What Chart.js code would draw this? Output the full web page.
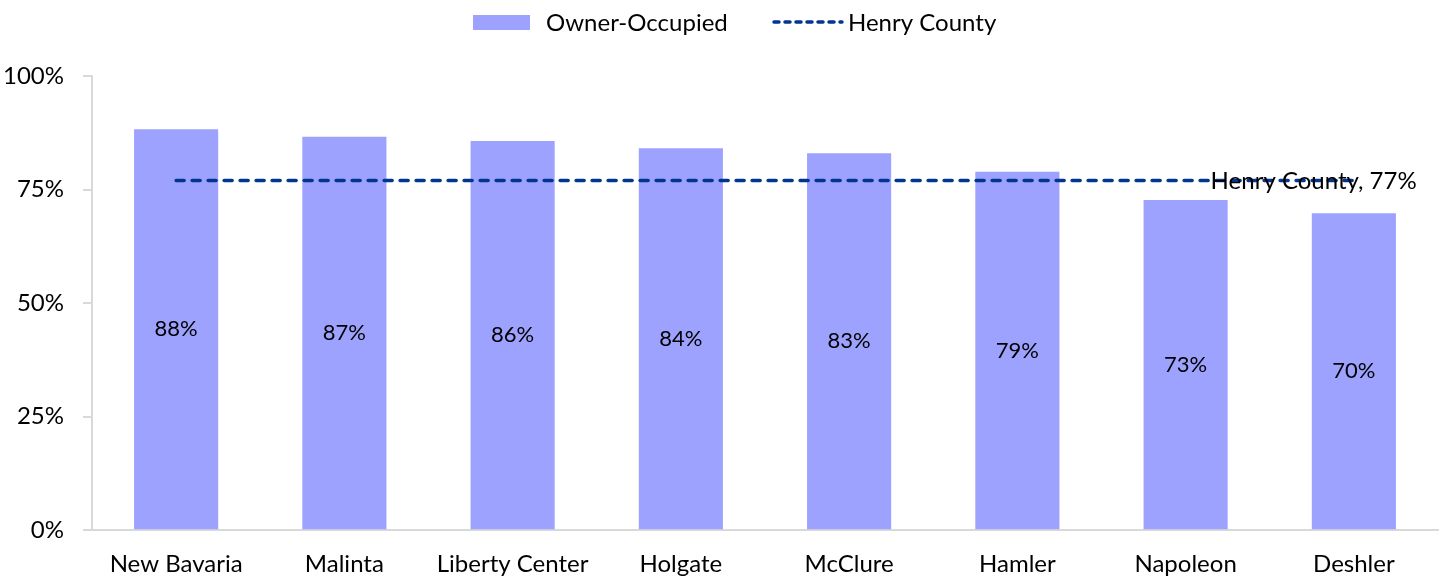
<!DOCTYPE html>
<html>
<head>
<meta charset="utf-8">
<script src="https://cdn.jsdelivr.net/npm/chart.js@4"></script>
<style>
  html, body { margin: 0; padding: 0; background: #fff; }
  #wrap { width: 1447px; height: 577px; }
</style>
</head>
<body>
<div id="wrap"><canvas id="c" width="1447" height="577"></canvas></div>
<script>
const places = ["New Bavaria", "Malinta", "Liberty Center", "Holgate", "McClure", "Hamler", "Napoleon", "Deshler"];
const ownerOccupied = [88.3, 86.6, 85.7, 84.1, 83.0, 78.9, 72.7, 69.8];
const ownerLabels = ["88%", "87%", "86%", "84%", "83%", "79%", "73%", "70%"];
const countyValue = 77;
const countyLine = places.map(() => countyValue);

const FONT = "Lato, 'Open Sans', sans-serif";
const BAR_COLOR = "#9ea2ff";
const LINE_COLOR = "#003591";

// labels in the middle of each bar + the county label near the right end
const labelPlugin = {
  id: "labels",
  afterDatasetsDraw(chart) {
    const ctx = chart.ctx;
    const meta = chart.getDatasetMeta(1);
    ctx.save();
    ctx.fillStyle = "#000";
    ctx.font = "22px " + FONT;
    ctx.textAlign = "center";
    ctx.textBaseline = "middle";
    meta.data.forEach((bar, i) => {
      const mid = (bar.y + bar.base) / 2;
      ctx.fillText(ownerLabels[i], bar.x, mid);
    });
    const xs = chart.scales.x, ys = chart.scales.y;
    ctx.font = "24px " + FONT;
    ctx.textAlign = "left";
    ctx.fillText("Henry County, " + countyValue + "%", xs.getPixelForValue(6) + 25, ys.getPixelForValue(countyValue) + 1);
    ctx.restore();
  }
};

// legend drawn by hand so the dashed line looks like the original
const legendPlugin = {
  id: "customLegend",
  afterDraw(chart) {
    const ctx = chart.ctx;
    ctx.save();
    ctx.fillStyle = BAR_COLOR;
    ctx.fillRect(473, 15, 57, 15);
    ctx.fillStyle = "#000";
    ctx.font = "24px " + FONT;
    ctx.textBaseline = "middle";
    ctx.textAlign = "left";
    ctx.fillText("Owner-Occupied", 546, 23);
    ctx.strokeStyle = LINE_COLOR;
    ctx.lineWidth = 3.5;
    ctx.lineCap = "round";
    ctx.setLineDash([5, 6]);
    ctx.beginPath();
    ctx.moveTo(774, 22);
    ctx.lineTo(842, 22);
    ctx.stroke();
    ctx.fillText("Henry County", 848, 23);
    ctx.restore();
  }
};

new Chart(document.getElementById("c"), {
  type: "bar",
  data: {
    labels: places,
    datasets: [{
      type: "line",
      label: "Henry County",
      data: countyLine,
      borderColor: LINE_COLOR,
      borderWidth: 3.5,
      borderDash: [8, 8],
      borderCapStyle: "round",
      pointRadius: 0,
      fill: false,
      order: 0
    }, {
      label: "Owner-Occupied",
      data: ownerOccupied,
      backgroundColor: BAR_COLOR,
      categoryPercentage: 1.0,
      barPercentage: 0.5,
      order: 1
    }]
  },
  options: {
    responsive: false,
    animation: false,
    layout: { padding: { top: 76, right: 9, left: -16, bottom: -14 } },
    plugins: {
      legend: { display: false },
      tooltip: { enabled: false }
    },
    scales: {
      x: {
        grid: { display: false },
        border: { color: "#d9d9d9", width: 2 },
        ticks: { color: "#000", font: { size: 24, family: FONT }, padding: 12, maxRotation: 0 }
      },
      y: {
        min: 0, max: 100,
        ticks: { stepSize: 25, color: "#000", font: { size: 24, family: FONT }, padding: 19,
          callback: v => v + "%" },
        grid: { drawOnChartArea: false, tickLength: 9, color: "#d9d9d9", lineWidth: 2 },
        border: { color: "#d9d9d9", width: 2 }
      }
    }
  },
  plugins: [labelPlugin, legendPlugin]
});
</script>
</body>
</html>
